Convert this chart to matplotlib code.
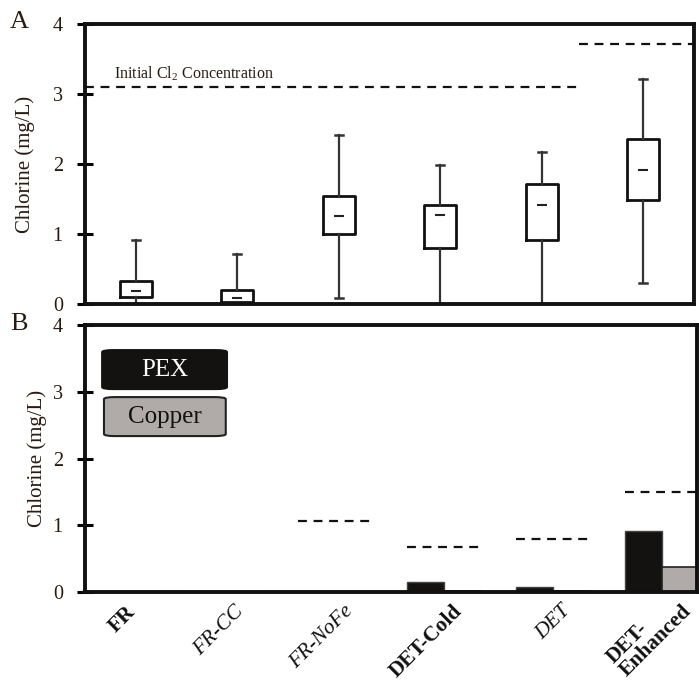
import matplotlib
matplotlib.use("Agg")
import matplotlib.pyplot as plt
from matplotlib.patches import FancyBboxPatch
from matplotlib.transforms import ScaledTranslation
import numpy as np

plt.rcParams['font.family'] = ['Liberation Serif', 'DejaVu Serif']
plt.rcParams['mathtext.fontset'] = 'custom'
plt.rcParams['mathtext.rm'] = 'Liberation Serif'

# ---------------- data ----------------
categories = ["FR", "FR-CC", "FR-NoFe", "DET-Cold", "DET", "DET-\nEnhanced"]
label_styles = ["bold", "italic", "italic", "bold", "italic", "bold"]

# Panel A box statistics
whis_lo = [0.00, 0.00, 0.08, 0.00, 0.00, 0.30]
q1      = [0.10, 0.03, 1.00, 0.80, 0.91, 1.48]
median  = [0.19, 0.09, 1.26, 1.27, 1.41, 1.91]
q3      = [0.33, 0.20, 1.54, 1.41, 1.72, 2.35]
whis_hi = [0.91, 0.71, 2.42, 1.99, 2.17, 3.22]

initial_levels = [3.10, 3.72]
initial_split = 4.37  # category coordinate where initial concentration changes

# Panel B bars
pex    = [0.00, 0.00, 0.00, 0.145, 0.075, 0.92]
copper = [0.00, 0.00, 0.00, 0.02, 0.02, 0.38]
initial_b = [0.00, 0.00, 1.06, 0.68, 0.79, 1.50]

TXT = '#2a1a10'
fig = plt.figure(figsize=(6.99, 6.91), dpi=100)
W, H = 699, 691

def px_axes(l, t, r, b):
    return fig.add_axes([l / W, 1 - b / H, (r - l) / W, (b - t) / H])

axA = px_axes(85, 24, 694, 304)
axB = px_axes(85, 325, 697, 592)

for ax in (axA, axB):
    for s in ax.spines.values():
        s.set_linewidth(2.8)
        s.set_color('#111111')
    ax.set_ylim(0, 4)
    ax.set_yticks([0, 1, 2, 3, 4])
    ax.tick_params(axis='y', direction='inout', length=12, width=2.2,
                   labelsize=14.5, labelcolor=TXT, pad=10)
    ax.set_ylabel("Chlorine (mg/L)", fontsize=15, color=TXT)

# ---------------- Panel A ----------------
xA = np.arange(len(categories))
stats = []
for i in range(len(categories)):
    stats.append(dict(whislo=whis_lo[i], q1=q1[i], med=median[i],
                      q3=q3[i], whishi=whis_hi[i], fliers=[]))
axA.bxp(stats, positions=xA, widths=0.32, showfliers=False,
        capwidths=0.08,
        boxprops=dict(color='#111111', linewidth=2),
        whiskerprops=dict(color='#333333', linewidth=1.6),
        capprops=dict(color='#333333', linewidth=1.8),
        medianprops=dict(linewidth=0))
axA.scatter(xA, median, marker='_', s=60, color='#222222', linewidths=1.5, zorder=4)
axA.set_xlim(-0.5, 5.5)
axA.set_xticks([])
axA.hlines(initial_levels[0], -0.5, initial_split, colors='#111111',
           linestyles=(0, (4, 3)), linewidth=1.6)
axA.hlines(initial_levels[1], initial_split, 5.5, colors='#111111',
           linestyles=(0, (4, 3)), linewidth=1.6)
axA.text(-0.21, 3.16, r"Initial Cl$_\mathregular{2}$ Concentration", fontsize=11.5,
         color=TXT, va='bottom', ha='left')
axA.yaxis.set_label_coords(-0.082, 0.5)
fig.text(10 / W, 1 - 22 / H, "A", fontsize=19, color=TXT, ha='left', va='center')

# ---------------- Panel B ----------------
xB = np.arange(len(categories))
bw = 0.34
axB.bar(xB - bw / 2, pex, width=bw, color='#141210', edgecolor='#444444', linewidth=1, zorder=2)
axB.bar(xB + bw / 2, copper, width=bw, color='#b0aba8', edgecolor='#222222', linewidth=1.2, zorder=2)
for i, v in enumerate(initial_b):
    axB.hlines(v, xB[i] - bw, xB[i] + bw, colors='#111111',
               linestyles=(0, (4, 3)), linewidth=1.6, zorder=3, clip_on=False)
axB.set_xlim(-0.30, 5.32)
axB.set_xticks(xB)
axB.tick_params(axis='x', length=0, pad=7)
axB.set_xticklabels(categories, rotation=45, ha='right', va='top',
                    rotation_mode='anchor', fontsize=15.5, color='#111111',
                    multialignment='left', linespacing=0.9)
labels = axB.get_xticklabels()
for k, (lab, st) in enumerate(zip(labels, label_styles)):
    if st == 'bold':
        lab.set_fontweight('bold')
    else:
        lab.set_fontstyle('italic')
    dx, dy = (8, 0) if k < len(labels) - 1 else (6, 14)
    lab.set_transform(lab.get_transform() +
                      ScaledTranslation(dx / 100, dy / 100, fig.dpi_scale_trans))
axB.yaxis.set_label_coords(-0.062, 0.5)
fig.text(10 / W, 1 - 324 / H, "B", fontsize=19, color=TXT, ha='left', va='center')

# legend boxes
for (x0, y0, x1, y1, fc, ec, tc, txt) in [
        (0.028, 0.760, 0.232, 0.906, '#141210', '#141210', 'white', 'PEX'),
        (0.031, 0.584, 0.230, 0.730, '#b0aba8', '#222222', '#111111', 'Copper')]:
    p = FancyBboxPatch((x0, y0), x1 - x0, y1 - y0,
                       boxstyle="round,pad=0,rounding_size=0.018",
                       transform=axB.transAxes, facecolor=fc, edgecolor=ec,
                       linewidth=1.5, zorder=5, mutation_aspect=267 / 612)
    axB.add_patch(p)
    axB.text((x0 + x1) / 2, (y0 + y1) / 2, txt, transform=axB.transAxes,
             ha='center', va='center', fontsize=18, color=tc, zorder=6)

fig.savefig("out.png", dpi=100)
